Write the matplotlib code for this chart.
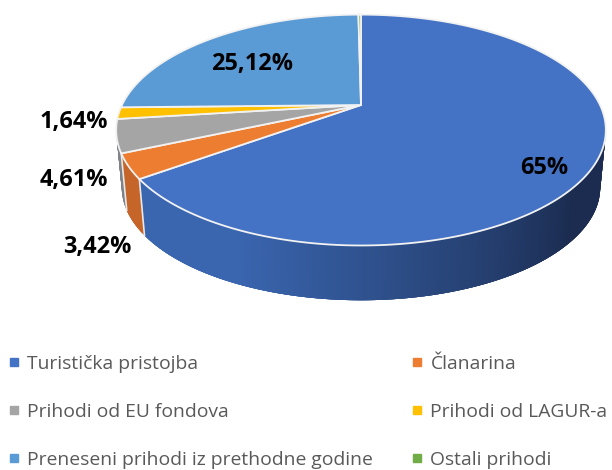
import numpy as np
import matplotlib
matplotlib.use('Agg')
import matplotlib.pyplot as plt
from matplotlib.colors import to_rgb
from matplotlib.lines import Line2D

# values (Ostali prihodi has no label, it is what is left to 100)
categories = ['Turistička pristojba', 'Članarina', 'Prihodi od EU fondova',
              'Prihodi od LAGUR-a', 'Preneseni prihodi iz prethodne godine', 'Ostali prihodi']
values = [65, 3.42, 4.61, 1.64, 25.12, 0.21]
value_labels = ['65%', '3,42%', '4,61%', '1,64%', '25,12%', '']
colors = ['#4472C4', '#ED7D31', '#A5A5A5', '#FFC000', '#5B9BD5', '#70AD47']
wall_colors = ['#3A66B0', '#C5652A', '#7F8287', '#FFC000', '#5B9BD5', '#70AD47']
label_pos = [(544, 168), (97, 247), (74, 180), (74, 122), (252, 64), None]

plt.rcParams['font.family'] = ['Open Sans', 'DejaVu Sans']

# pie in perspective, the tilted circle is a projective map of the unit circle
cx, cy = 361, 105
A, B, k = 239, 110, 0.217
shrink, depth = 0.977, 58


def top_pts(deg):
    t = np.radians(deg)
    d = 1 + k * np.cos(t)
    return cx + A * np.sin(t) / d, cy - B * np.cos(t) / d


def bottom_pts(deg):
    x, y = top_pts(deg)
    return cx + (x - cx) * shrink, cy + (y - cy) * shrink + depth


fig = plt.figure(figsize=(6.12, 4.7), dpi=100)
ax = fig.add_axes([0, 0, 1, 1])
ax.set_xlim(0, 612)
ax.set_ylim(470, 0)
ax.axis('off')

edges = np.concatenate([[0], np.cumsum(values) / np.sum(values) * 360])

# side wall, only the part facing us (gets darker to the right on the blue slice)
wall_from, wall_to = 102, 258
dark_end = to_rgb('#1B2C50')
for i in range(len(values)):
    start, stop = max(edges[i], wall_from), min(edges[i + 1], wall_to)
    if stop <= start:
        continue
    steps = np.linspace(start, stop, int(stop - start) * 2 + 2)
    for a, b in zip(steps[:-1], steps[1:]):
        c = to_rgb(wall_colors[i])
        if i == 0:
            f = np.clip((205 - a) / 75, 0, 1)
            c = tuple(np.array(c) * (1 - f) + np.array(dark_end) * f)
        # each piece runs a bit over the next one so no seams show
        th = np.linspace(a, min(b + 1.5, stop), 5)
        xt, yt = top_pts(th)
        xb, yb = bottom_pts(th[::-1])
        ax.fill(np.r_[xt, xb], np.r_[yt, yb], color=c, lw=0, zorder=1)

# light lines between the wall pieces
for e in edges[1:3]:
    xt, yt = top_pts(e)
    xb, yb = bottom_pts(e)
    ax.plot([xt, xb], [yt, yb], color='#E8E8E8', lw=1.2, zorder=2)

# top face
for i in range(len(values)):
    th = np.linspace(edges[i], edges[i + 1], 200)
    x, y = top_pts(th)
    ax.fill(np.r_[cx, x], np.r_[cy, y], facecolor=colors[i], edgecolor='#F2F2F2',
            lw=1.3, joinstyle='round', zorder=3)

for lab, pos in zip(value_labels, label_pos):
    if pos is not None:
        ax.text(pos[0], pos[1], lab, fontsize=16.9, fontweight='bold', color='black',
                ha='center', va='center', zorder=5)

# legend fills column by column, the chart reads row by row
order = [0, 2, 4, 1, 3, 5]
handles = [Line2D([], [], ls='none', marker='s', ms=5.2, mfc=colors[i], mec=colors[i]) for i in order]
leg = ax.legend(handles, [categories[i] for i in order], loc='lower left', bbox_to_anchor=(0.0105, -0.002),
                ncols=2, frameon=False, fontsize=13.9, labelcolor='#595959',
                handlelength=0.55, handletextpad=0.4, labelspacing=1.55,
                columnspacing=2.05, borderaxespad=0, borderpad=0.1)

fig.savefig('out.png', dpi=100, facecolor='white')
